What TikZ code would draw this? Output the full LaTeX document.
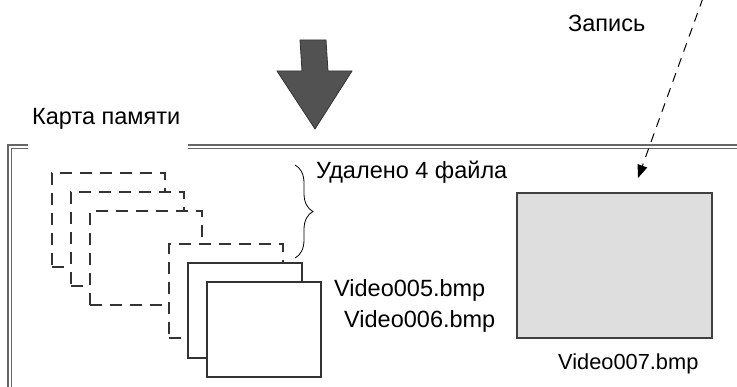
\documentclass[tikz,border=0pt]{standalone}
\usepackage{fontspec}
\setmainfont{Liberation Sans}
\usetikzlibrary{arrows.meta,decorations.pathreplacing}
\begin{document}
\begin{tikzpicture}[x=1pt,y=-1pt,
  lbl/.style={font=\fontsize{23.5}{28}\selectfont, inner sep=0pt, anchor=base west},
  boxbase/.style={draw=black!80, fill=white, line width=1.2pt, inner sep=0pt, outer sep=0pt, anchor=north west},
  delbox/.style={boxbase, dash pattern=on 12pt off 8pt, minimum width=113pt, minimum height=94pt},
  filebox/.style={boxbase, minimum width=114pt, minimum height=95pt},
  frameline/.style={draw=black!60, line width=1.1pt},
  bigarrow/.style={fill=black!68, draw=black!80, line width=0.8pt},
  writearrow/.style={draw=black, line width=1pt, dash pattern=on 9pt off 7pt, -{Triangle[length=13pt,width=10pt]}}]
\useasboundingbox (0,0) rectangle (737,387);
\clip (0,0) rectangle (737,387);

% memory card frame (double line)
\draw[frameline] (28,145) -- (8,145) -- (8,392);
\draw[frameline] (28,148.5) -- (11.5,148.5) -- (11.5,392);
\draw[frameline] (188,145) -- (742,145);
\draw[frameline] (188,148.5) -- (742,148.5);

% deleted files (dashed) and remaining files
\node[delbox] (d1) at (52,173) {};
\node[delbox] (d2) at (71,192) {};
\node[delbox, minimum width=112pt] (d3) at (90,211) {};
\node[delbox, minimum width=114pt] (d4) at (169,244) {};
\node[filebox] (f5) at (188,263) {};
\node[filebox] (f6) at (207,282) {};

% new file
\node[boxbase, fill=black!13, draw=black!75, minimum width=195pt, minimum height=145pt] (f7) at (517,193) {};

% big arrow
\filldraw[bigarrow] (300,40) -- (326,40) -- (328,71) -- (352,71) -- (315,129) -- (277,71) -- (302,71) -- cycle;

% brace
\draw[line width=0.8pt, decorate, decoration={brace, amplitude=18pt}] (295,165) -- (295,258);

% write arrow
\coordinate (wsrc) at (703,-2);
\coordinate (wdst) at (638,178);
\draw[writearrow] (wsrc) -- (wdst);

% labels
\node[lbl] (lcard) at (32,125) {Карта памяти};
\node[lbl] (ldel) at (316,179) {Удалено 4 файла};
\node[lbl] (l5) at (334,297) {Video005.bmp};
\node[lbl] (l6) at (344,328) {Video006.bmp};
\node[lbl, font=\fontsize{21.8}{26}\selectfont] (l7) at (558,370) {Video007.bmp};
\node[lbl] (lwrite) at (568,32) {Запись};
\end{tikzpicture}
\end{document}
